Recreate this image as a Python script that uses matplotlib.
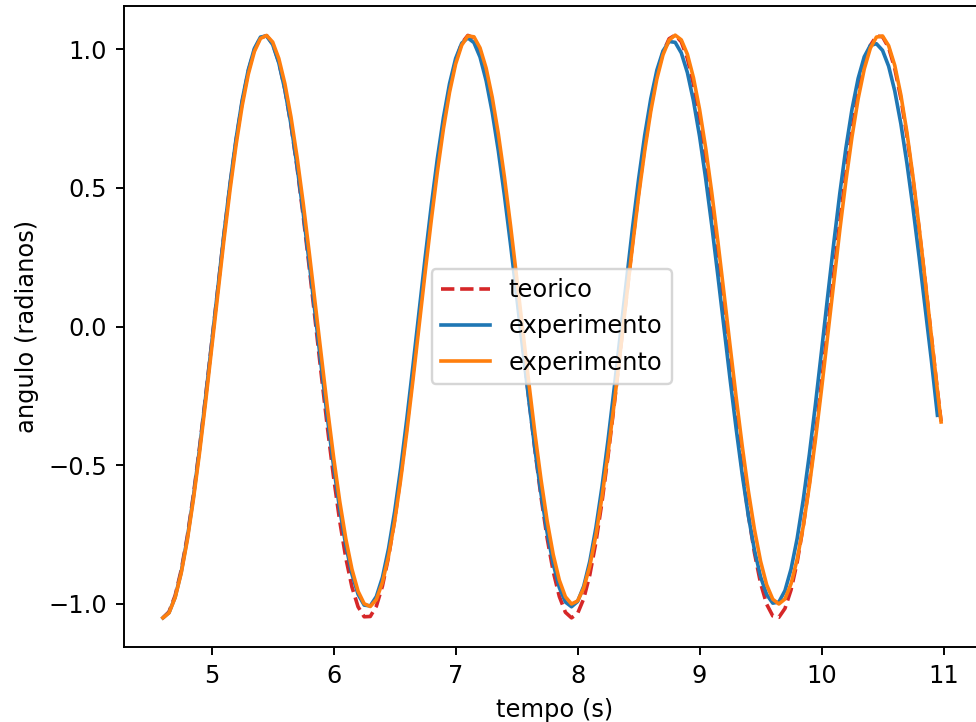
import matplotlib
matplotlib.use("Agg")
import matplotlib.pyplot as plt

tempo = [4.60, 4.65, 4.70, 4.75, 4.80, 4.85, 4.90, 4.95, 5.00, 5.05, 5.10, 5.15, 5.20, 5.25, 5.30, 5.35,
         5.40, 5.45, 5.50, 5.55, 5.60, 5.65, 5.70, 5.75, 5.80, 5.85, 5.90, 5.95, 6.00, 6.05, 6.10, 6.15,
         6.20, 6.25, 6.30, 6.35, 6.40, 6.45, 6.50, 6.55, 6.60, 6.65, 6.70, 6.75, 6.80, 6.85, 6.90, 6.95,
         7.00, 7.05, 7.10, 7.15, 7.20, 7.25, 7.30, 7.35, 7.40, 7.45, 7.50, 7.55, 7.60, 7.65, 7.70, 7.75,
         7.80, 7.85, 7.90, 7.95, 8.00, 8.05, 8.10, 8.15, 8.20, 8.25, 8.30, 8.35, 8.40, 8.45, 8.50, 8.55,
         8.60, 8.65, 8.70, 8.75, 8.80, 8.85, 8.90, 8.95, 9.00, 9.05, 9.10, 9.15, 9.20, 9.25, 9.30, 9.35,
         9.40, 9.45, 9.50, 9.55, 9.60, 9.65, 9.70, 9.75, 9.80, 9.85, 9.90, 9.95, 10.00, 10.05, 10.10, 10.15,
         10.20, 10.25, 10.30, 10.35, 10.40, 10.45, 10.50, 10.55, 10.60, 10.65, 10.70, 10.75, 10.80, 10.85,
         10.90, 10.95, 10.98]

teorico = [-1.050, -1.028, -0.970, -0.878, -0.756, -0.607, -0.437, -0.252, -0.058, 0.138, 0.329, 0.509,
           0.671, 0.809, 0.920, 0.998, 1.041, 1.048, 1.019, 0.953, 0.855, 0.726, 0.573, 0.399, 0.212, 0.016,
           -0.179, -0.368, -0.545, -0.702, -0.835, -0.939, -1.010, -1.046, -1.045, -1.008, -0.935, -0.830,
           -0.696, -0.538, -0.361, -0.171, 0.025, 0.220, 0.407, 0.580, 0.733, 0.860, 0.957, 1.021, 1.049,
           1.040, 0.995, 0.916, 0.804, 0.664, 0.502, 0.322, 0.130, -0.066, -0.260, -0.445, -0.614, -0.762,
           -0.883, -0.973, -1.030, -1.050, -1.034, -0.981, -0.895, -0.777, -0.632, -0.465, -0.282, -0.089,
           0.107, 0.300, 0.482, 0.647, 0.789, 0.905, 0.988, 1.037, 1.050, 1.026, 0.966, 0.872, 0.748, 0.598,
           0.427, 0.242, 0.047, -0.149, -0.340, -0.518, -0.679, -0.816, -0.925, -1.001, -1.043, -1.048,
           -1.016, -0.949, -0.849, -0.719, -0.564, -0.389, -0.201, -0.005, 0.190, 0.379, 0.554, 0.711, 0.842,
           0.944, 1.013, 1.047, 1.044, 1.005, 0.930, 0.823, 0.687, 0.528, 0.350, 0.160, -0.036, -0.231, -0.342]

experimento1 = [-1.050, -1.031, -0.976, -0.885, -0.763, -0.614, -0.443, -0.256, -0.060, 0.139, 0.332, 0.514,
                0.677, 0.816, 0.925, 1.002, 1.043, 1.047, 1.016, 0.950, 0.853, 0.728, 0.578, 0.410, 0.228,
                0.039, -0.151, -0.334, -0.506, -0.660, -0.790, -0.893, -0.965, -1.004, -1.007, -0.973,
                -0.904, -0.800, -0.667, -0.509, -0.332, -0.142, 0.054, 0.248, 0.434, 0.605, 0.753, 0.875,
                0.966, 1.021, 1.040, 1.023, 0.971, 0.886, 0.772, 0.633, 0.472, 0.296, 0.110, -0.080, -0.266,
                -0.442, -0.603, -0.742, -0.856, -0.941, -0.993, -1.010, -0.991, -0.936, -0.846, -0.725,
                -0.577, -0.407, -0.222, -0.029, 0.166, 0.355, 0.531, 0.689, 0.821, 0.924, 0.993, 1.027, 1.024,
                0.986, 0.915, 0.813, 0.685, 0.533, 0.364, 0.183, -0.004, -0.190, -0.369, -0.535, -0.683,
                -0.806, -0.902, -0.966, -0.997, -0.993, -0.952, -0.874, -0.764, -0.624, -0.461, -0.280,
                -0.088, 0.108, 0.300, 0.481, 0.644, 0.784, 0.894, 0.972, 1.013, 1.019, 0.995, 0.938, 0.849,
                0.731, 0.588, 0.426, 0.250, 0.066, -0.120, -0.320]

experimento2 = [-1.050, -1.032, -0.977, -0.889, -0.770, -0.623, -0.456, -0.272, -0.078, 0.118, 0.310, 0.491,
                0.655, 0.796, 0.909, 0.991, 1.038, 1.049, 1.025, 0.966, 0.875, 0.755, 0.610, 0.445, 0.265,
                0.077, -0.113, -0.298, -0.473, -0.631, -0.766, -0.875, -0.954, -0.999, -1.009, -0.984,
                -0.922, -0.827, -0.702, -0.550, -0.379, -0.193, 0.001, 0.195, 0.382, 0.557, 0.713, 0.844,
                0.946, 1.014, 1.047, 1.044, 1.004, 0.931, 0.826, 0.694, 0.538, 0.364, 0.178, -0.013, -0.203,
                -0.385, -0.552, -0.700, -0.822, -0.914, -0.974, -1.000, -0.989, -0.943, -0.863, -0.752,
                -0.614, -0.454, -0.277, -0.090, 0.102, 0.290, 0.470, 0.633, 0.776, 0.893, 0.979, 1.032, 1.050,
                1.033, 0.981, 0.896, 0.782, 0.643, 0.482, 0.306, 0.120, -0.070, -0.256, -0.432, -0.593,
                -0.732, -0.846, -0.931, -0.983, -1.000, -0.982, -0.927, -0.839, -0.720, -0.574, -0.407,
                -0.225, -0.033, 0.160, 0.349, 0.526, 0.685, 0.821, 0.928, 1.003, 1.043, 1.047, 1.012, 0.941,
                0.835, 0.699, 0.538, 0.357, 0.164, -0.035, -0.231, -0.344]

DPI = 173.5
fig = plt.figure(figsize=(976 / DPI, 722 / DPI), dpi=DPI)
ax = fig.add_axes([124 / 976, 75 / 722, 861 / 976, 641 / 722])

ax.plot(tempo, teorico, '--', color='#d62728', label='teorico')
ax.plot(tempo[:len(experimento1)], experimento1, color='#1f77b4', label='experimento')
ax.plot(tempo, experimento2, color='#ff7f0e', label='experimento')

ax.set_xlim(4.281, 11.34)
ax.spines['right'].set_visible(False)
ax.set_xlabel('tempo (s)')
ax.set_ylabel('angulo (radianos)')
ax.legend(loc='center', bbox_to_anchor=(0.497, 0.5))

fig.savefig('out.png', dpi=DPI)
